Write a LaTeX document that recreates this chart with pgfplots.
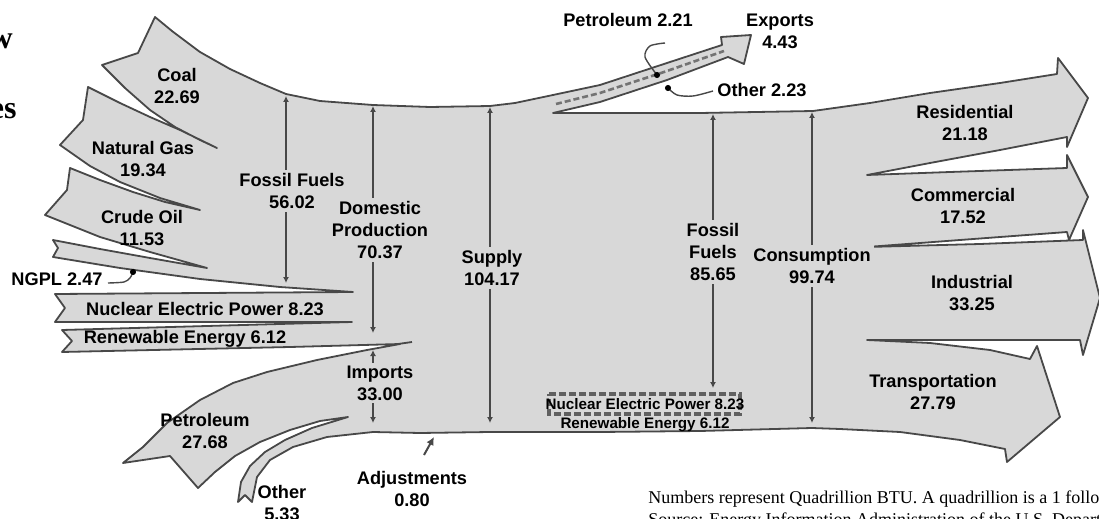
\documentclass[border=0pt]{standalone}
\usepackage{fontspec}
\setmainfont{Liberation Sans}
\newfontfamily\seriffont{Liberation Serif}
\usepackage{pgfplots}
\pgfplotsset{compat=1.18}
\usetikzlibrary{arrows.meta}
\definecolor{flow}{RGB}{216,216,216}
\definecolor{edge}{RGB}{72,72,72}
\newcommand\lab{\fontsize{9.1}{11}\selectfont\bfseries}
\begin{document}
\begin{tikzpicture}[
  lbl/.style={font=\lab,align=center,inner sep=1pt},
  flbl/.style={font=\lab,align=center,inner sep=1.5pt,fill=flow},
  dim/.style={draw=edge,line width=1pt,{Latex[length=3pt,width=3pt]}-{Latex[length=3pt,width=3pt]}}]
\begin{axis}[width=549.5pt,height=259.5pt,scale only axis,hide axis,
  xmin=0,xmax=1099,ymin=0,ymax=519,y dir=reverse,clip=false]
% whole flow outline
\addplot[fill=flow,draw=edge,line width=0.9pt,line join=round] coordinates {
(155,17) (172,31) (200,52) (230,69) (260,83) (286,94) (320,101) (373,105) (430,107) (490,106) (515,103)
(553,95) (600,85) (667,63) (722,45)
(721,37) (751,35) (744,64) (728,57)
(667,80) (600,102) (553,113)
(700,113) (813,111)
(870,103) (930,93) (1000,83) (1057,74)
(1058,58) (1088,98) (1067,147) (1067,137)
(1000,150) (930,163) (867,175)
(950,172) (1067,168)
(1067,155) (1088,197) (1069,240) (1067,232)
(960,240) (867,247)
(980,244) (1083,240)
(1083,230) (1100,298) (1083,355) (1080,340)
(867,340)
(930,343) (990,350) (1030,359)
(1037,346) (1060,417) (1007,462) (1005,449)
(960,440) (900,432) (840,429) (812,428) (700,431) (600,432) (490,432) (420,433) (373,432)
(327,437) (293,447) (270,460) (257,477) (252,502)
(245,495) (238,502)
(241,482) (250,466) (265,452) (285,440) (312,428) (348,417)
(320,421) (290,430) (260,442) (235,456) (215,472) (198,488)
(170,456) (123,463)
(143,447) (167,423) (200,400) (233,383) (267,372) (317,360) (367,350) (400,344)
(290,347) (62,352)
(72,341) (62,330)
(352,322)
(55,322)
(65,308) (55,294)
(353,292)
(280,287) (200,279) (120,268) (53,257)
(58,248) (53,240)
(100,249) (150,258) (207,268)
(150,252) (100,237) (45,215)
(67,190) (70,168)
(100,180) (133,192) (165,202) (200,210)
(160,198) (120,182) (90,166) (60,145)
(83,120) (88,87)
(120,103) (150,117) (180,130) (217,148)
(200,140) (175,127) (150,110) (125,88) (102,65)
(138,53)
} -- cycle;
% renewable line extension
\addplot[draw=edge,line width=0.9pt] coordinates {(398,344) (412,342)};
% exports dashed line
\addplot[draw=gray!90!black,line width=1.3pt,dash pattern=on 3pt off 1.5pt] coordinates {(556,104) (600,93) (667,71) (724,51)};
% dashed box nuclear + renewable
\addplot[draw=gray!75!black,line width=1.8pt,dash pattern=on 3.5pt off 1.5pt] coordinates {(549,394) (740,394) (740,414) (549,414)} -- cycle;
% dimension arrows
\addplot[dim] coordinates {(286,96) (286,283)};
\addplot[dim] coordinates {(373,106) (373,333)};
\addplot[dim] coordinates {(373,350) (373,423)};
\addplot[dim] coordinates {(490,107) (490,423)};
\addplot[dim] coordinates {(713,114) (713,388)};
\addplot[dim] coordinates {(812,112) (812,423)};
% leaders
\addplot[draw=edge,line width=0.7pt,smooth] coordinates {(108,283) (124,282) (130,278) (133,272)};
\addplot[only marks,mark=*,mark size=1.3pt,color=black] coordinates {(133,272) (657,75) (668,88)};
\addplot[draw=edge,line width=0.7pt,smooth] coordinates {(665,43) (650,46) (645,57) (657,75)};
\addplot[draw=edge,line width=0.7pt,smooth] coordinates {(668,88) (677,95) (693,96) (713,91)};
\addplot[draw=edge,line width=1pt,-{Latex[length=4pt,width=4pt]}] coordinates {(424,455) (434,437)};
% labels
\node[lbl] at (177,86) {Coal\\22.69};
\node[lbl] at (143,159) {Natural Gas\\19.34};
\node[lbl] at (142,228) {Crude Oil\\11.53};
\node[lbl] at (57,279) {NGPL 2.47};
\node[lbl] at (205,309) {Nuclear Electric Power 8.23};
\node[lbl] at (185,339) {Renewable Energy 6.12};
\node[flbl] at (292,191) {Fossil Fuels\\56.02};
\node[flbl] at (380,230) {Domestic\\Production\\70.37};
\node[flbl] at (380,383) {Imports\\33.00};
\node[lbl] at (205,431) {Petroleum\\27.68};
\node[lbl] at (282,503) {Other\\5.33};
\node[lbl] at (412,489) {Adjustments\\0.80};
\node[flbl] at (492,268) {Supply\\104.17};
\node[flbl] at (713,252) {Fossil\\Fuels\\85.65};
\node[flbl] at (812,266) {Consumption\\99.74};
\node[lbl] at (628,20) {Petroleum 2.21};
\node[lbl] at (780,31) {Exports\\4.43};
\node[lbl] at (762,90) {Other 2.23};
\node[lbl] at (965,123) {Residential\\21.18};
\node[lbl] at (963,206) {Commercial\\17.52};
\node[lbl] at (972,293) {Industrial\\33.25};
\node[lbl] at (933,392) {Transportation\\27.79};
\node[font=\fontsize{7.6}{9.6}\selectfont\bfseries,align=center,inner sep=0pt] at (645,415) {Nuclear Electric Power 8.23\\Renewable Energy 6.12};
% title fragments and note
\node[anchor=base east,inner sep=0pt,font=\seriffont\bfseries\fontsize{16}{18}\selectfont] at (13,49) {Energy Flow};
\node[anchor=base east,inner sep=0pt,font=\seriffont\bfseries\fontsize{16}{18}\selectfont] at (17,119) {Energy Sources};
\node[anchor=base west,inner sep=0pt,font=\seriffont\fontsize{9}{11}\selectfont] at (648,503) {Numbers represent Quadrillion BTU. A quadrillion is a 1 followed by 15 zeros.};
\node[anchor=base west,inner sep=0pt,font=\seriffont\fontsize{9}{11}\selectfont] at (648,525) {Source: Energy Information Administration of the U.S. Department of Energy};
\end{axis}
\pgfresetboundingbox
\useasboundingbox (current axis.south west) rectangle (current axis.north east);
\end{tikzpicture}
\end{document}
